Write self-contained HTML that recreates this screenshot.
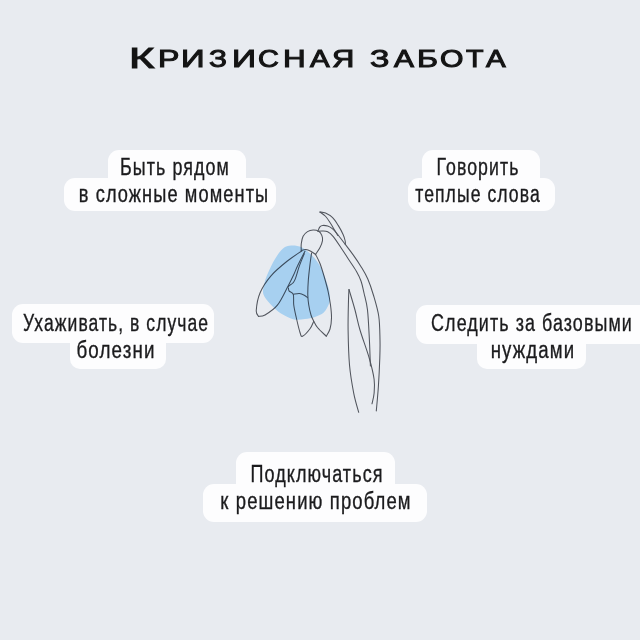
<!DOCTYPE html>
<html><head><meta charset="utf-8"><style>
html,body{margin:0;padding:0}
body{width:640px;height:640px;background:#e8ebf0;position:relative;overflow:hidden;font-family:"Liberation Sans",sans-serif}
.bx{position:absolute;background:#fdfdfe}
.tx{position:absolute;font-size:23px;line-height:1;white-space:nowrap;color:#1b1b1d;-webkit-text-stroke:0.35px #1b1b1d;letter-spacing:1.4px;transform-origin:0 0}
.tl{position:absolute;line-height:1;-webkit-text-stroke:1.0px #141414;color:#141414;white-space:nowrap;transform-origin:0 0}
svg{position:absolute;left:0;top:0}
</style></head><body>
<div class="tl" style="left:129.10px;top:43.93px;font-size:28.63px;transform:scaleX(1.524)">К</div>
<div class="tl" style="left:157.59px;top:48.35px;font-size:23.40px;transform:scaleX(1.368)">Р</div>
<div class="tl" style="left:180.75px;top:48.35px;font-size:23.40px;transform:scaleX(1.401)">И</div>
<div class="tl" style="left:209.08px;top:48.35px;font-size:23.40px;transform:scaleX(1.271)">З</div>
<div class="tl" style="left:232.40px;top:48.35px;font-size:23.40px;transform:scaleX(1.430)">И</div>
<div class="tl" style="left:258.41px;top:48.35px;font-size:23.40px;transform:scaleX(1.235)">С</div>
<div class="tl" style="left:282.73px;top:48.35px;font-size:23.40px;transform:scaleX(1.342)">Н</div>
<div class="tl" style="left:309.51px;top:48.35px;font-size:23.40px;transform:scaleX(1.259)">А</div>
<div class="tl" style="left:331.88px;top:48.35px;font-size:23.40px;transform:scaleX(1.320)">Я</div>
<div class="tl" style="left:369.86px;top:48.35px;font-size:23.40px;transform:scaleX(1.372)">З</div>
<div class="tl" style="left:393.52px;top:48.35px;font-size:23.40px;transform:scaleX(1.277)">А</div>
<div class="tl" style="left:417.00px;top:48.35px;font-size:23.40px;transform:scaleX(1.367)">Б</div>
<div class="tl" style="left:440.20px;top:48.35px;font-size:23.40px;transform:scaleX(1.289)">О</div>
<div class="tl" style="left:465.92px;top:48.35px;font-size:23.40px;transform:scaleX(1.226)">Т</div>
<div class="tl" style="left:486.21px;top:48.35px;font-size:23.40px;transform:scaleX(1.259)">А</div>
<div class="bx" style="left:108px;top:150px;width:138.0px;height:28.0px;border-radius:11px 11px 0 0"></div>
<div class="bx" style="left:64px;top:178px;width:212.0px;height:33.0px;border-radius:11px"></div>
<div class="bx" style="left:422px;top:150px;width:118.0px;height:28.3px;border-radius:11px 11px 0 0"></div>
<div class="bx" style="left:408px;top:178.3px;width:147.0px;height:32.7px;border-radius:11px"></div>
<div class="bx" style="left:11.5px;top:304px;width:202.5px;height:39.0px;border-radius:11px"></div>
<div class="bx" style="left:70px;top:343px;width:96.0px;height:26.0px;border-radius:0 0 10px 10px"></div>
<div class="bx" style="left:416px;top:305px;width:244.0px;height:38.8px;border-radius:11px"></div>
<div class="bx" style="left:477px;top:343.8px;width:109.0px;height:25.7px;border-radius:0 0 10px 10px"></div>
<div class="bx" style="left:236px;top:452px;width:159.0px;height:31.5px;border-radius:11px 11px 0 0"></div>
<div class="bx" style="left:202.5px;top:483.5px;width:224.5px;height:38.8px;border-radius:11px"></div>
<div class="tx" style="left:174.51px;top:156.03px;transform:scaleX(0.7765) translateX(-50%)">Быть рядом</div>
<div class="tx" style="left:174.04px;top:182.83px;transform:scaleX(0.7908) translateX(-50%)">в сложные моменты</div>
<div class="tx" style="left:477.52px;top:156.03px;transform:scaleX(0.7688) translateX(-50%)">Говорить</div>
<div class="tx" style="left:478.00px;top:182.83px;transform:scaleX(0.7646) translateX(-50%)">теплые слова</div>
<div class="tx" style="left:115.51px;top:311.83px;transform:scaleX(0.7607) translateX(-50%)">Ухаживать, в случае</div>
<div class="tx" style="left:115.56px;top:338.83px;transform:scaleX(0.8153) translateX(-50%)">болезни</div>
<div class="tx" style="left:531.83px;top:311.73px;transform:scaleX(0.7776) translateX(-50%)">Следить за базовыми</div>
<div class="tx" style="left:532.55px;top:338.73px;transform:scaleX(0.8092) translateX(-50%)">нуждами</div>
<div class="tx" style="left:316.53px;top:462.83px;transform:scaleX(0.7821) translateX(-50%)">Подключаться</div>
<div class="tx" style="left:315.74px;top:490.33px;transform:scaleX(0.8025) translateX(-50%)">к решению проблем</div>
<svg width="640" height="640" viewBox="0 0 640 640" style="position:absolute;left:0;top:0"><path d="M291.25,245.50 C294.42,245.33 298.46,245.75 302.00,247.50 C305.54,249.25 309.50,252.92 312.50,256.00 C315.50,259.08 317.92,262.42 320.00,266.00 C322.08,269.58 323.50,273.50 325.00,277.50 C326.50,281.50 328.17,286.42 329.00,290.00 C329.83,293.58 330.08,296.50 330.00,299.00 C329.92,301.50 329.54,302.75 328.50,305.00 C327.46,307.25 326.00,310.50 323.75,312.50 C321.50,314.50 318.12,315.92 315.00,317.00 C311.88,318.08 308.50,318.60 305.00,319.00 C301.50,319.40 298.00,320.32 294.00,319.40 C290.00,318.48 284.95,316.07 281.00,313.50 C277.05,310.93 273.25,307.25 270.30,304.00 C267.35,300.75 264.27,297.50 263.30,294.00 C262.33,290.50 263.72,286.50 264.50,283.00 C265.28,279.50 266.25,277.00 268.00,273.00 C269.75,269.00 272.50,263.08 275.00,259.00 C277.50,254.92 280.29,250.75 283.00,248.50 C285.71,246.25 288.08,245.67 291.25,245.50Z" fill="#a7d0f0"/><g fill="none" stroke="#595c63" stroke-width="1.05" stroke-linecap="round" stroke-linejoin="round" style="mix-blend-mode:multiply"><path d="M319.90,212.00 C320.83,212.18 323.38,212.15 325.50,213.10 C327.62,214.05 330.48,215.65 332.60,217.70 C334.72,219.75 336.45,222.60 338.20,225.40 C339.95,228.20 341.93,231.90 343.10,234.50 C344.27,237.10 344.83,239.35 345.20,241.00 C345.57,242.65 345.28,243.83 345.30,244.40"/><path d="M319.90,212.00 C320.83,212.71 323.73,214.37 325.50,216.25 C327.27,218.13 328.97,220.96 330.50,223.30 C332.03,225.64 333.48,228.27 334.70,230.30 C335.92,232.33 337.28,234.63 337.80,235.50"/><path d="M318.20,230.30 C318.48,229.72 319.15,227.62 319.90,226.80 C320.65,225.98 321.40,225.52 322.70,225.40 C324.00,225.28 326.05,225.52 327.70,226.10 C329.35,226.68 331.07,227.67 332.60,228.90 C334.13,230.13 334.78,230.92 336.90,233.50 C339.02,236.08 342.50,240.72 345.30,244.40 C348.10,248.08 351.05,251.85 353.70,255.60 C356.35,259.35 358.85,263.00 361.20,266.90 C363.55,270.80 365.77,274.32 367.80,279.00 C369.83,283.68 371.57,288.79 373.40,295.00 C375.22,301.21 377.65,308.75 378.75,316.25 C379.85,323.75 379.82,333.04 380.00,340.00 C380.18,346.96 380.07,350.28 379.80,358.00 C379.53,365.72 378.98,377.48 378.40,386.30 C377.82,395.12 376.65,406.80 376.30,410.90"/><path d="M317.80,231.40 C318.50,231.33 320.35,230.95 322.00,231.00 C323.65,231.05 325.82,230.77 327.70,231.70 C329.58,232.63 330.83,233.55 333.30,236.60 C335.77,239.65 339.88,246.10 342.50,250.00 C345.12,253.90 346.67,256.42 349.00,260.00 C351.33,263.58 354.50,268.00 356.50,271.50 C358.50,275.00 359.75,277.42 361.00,281.00 C362.25,284.58 362.92,288.17 364.00,293.00 C365.08,297.83 366.60,302.17 367.50,310.00 C368.40,317.83 368.98,332.50 369.40,340.00 C369.82,347.50 369.83,350.67 370.00,355.00 C370.17,359.33 370.33,364.17 370.40,366.00"/><path d="M349.00,289.50 C348.92,291.25 348.65,293.25 348.50,300.00 C348.35,306.75 347.93,319.17 348.10,330.00 C348.27,340.83 348.56,354.45 349.50,365.00 C350.44,375.55 352.22,385.42 353.75,393.30 C355.28,401.18 357.88,409.13 358.70,412.30"/><path d="M349.00,289.50 C350.00,292.92 353.17,303.25 355.00,310.00 C356.83,316.75 357.63,322.00 360.00,330.00 C362.37,338.00 366.85,349.80 369.20,358.00 C371.55,366.20 373.28,373.32 374.10,379.20 C374.92,385.08 374.45,389.20 374.10,393.30 C373.75,397.40 372.35,402.05 372.00,403.80"/><path d="M301.25,250.60 C301.25,249.46 300.94,246.14 301.25,243.75 C301.56,241.36 302.06,238.28 303.10,236.25 C304.14,234.22 305.83,232.64 307.50,231.60 C309.17,230.56 311.23,230.06 313.10,230.00 C314.98,229.94 317.28,230.32 318.75,231.25 C320.22,232.18 321.27,234.04 321.90,235.60 C322.52,237.16 322.82,238.62 322.50,240.60 C322.18,242.58 321.15,245.20 320.00,247.50 C318.85,249.80 316.33,253.25 315.60,254.40"/><path d="M301.25,250.60 C302.02,250.43 304.31,249.49 305.90,249.60 C307.49,249.71 309.18,250.45 310.80,251.25 C312.42,252.05 314.80,253.88 315.60,254.40"/><path d="M302.00,250.80 C299.57,252.50 292.57,256.83 287.40,261.00 C282.23,265.17 275.55,270.52 271.00,275.80 C266.45,281.08 262.56,286.92 260.10,292.70 C257.64,298.48 256.50,306.55 256.25,310.50 C256.00,314.45 258.21,315.42 258.60,316.40"/><path d="M258.60,316.40 C259.67,316.17 261.87,316.87 265.00,315.00 C268.13,313.13 273.57,310.00 277.40,305.20 C281.23,300.40 285.28,291.27 288.00,286.20 C290.72,281.13 292.12,278.17 293.70,274.80 C295.28,271.43 295.62,269.93 297.50,266.00 C299.38,262.07 303.75,253.71 305.00,251.25"/><path d="M304.30,253.70 C303.48,255.73 300.90,261.70 299.40,265.90 C297.90,270.10 296.38,276.05 295.30,278.90 C294.22,281.75 293.85,281.92 292.90,283.00 C291.95,284.08 290.35,284.82 289.60,285.40 C288.85,285.98 288.60,286.32 288.40,286.50"/><path d="M288.40,287.80 C288.53,288.35 288.38,290.02 289.20,291.10 C290.02,292.18 292.54,291.98 293.30,294.30 C294.06,296.62 293.26,301.13 293.75,305.00 C294.24,308.87 295.21,312.92 296.25,317.50 C297.29,322.08 298.96,329.38 300.00,332.50 C301.04,335.62 300.83,336.88 302.50,336.25 C304.17,335.62 308.12,331.25 310.00,328.75 C311.88,326.25 313.12,322.50 313.75,321.25"/><path d="M293.30,294.30 C294.32,294.17 297.57,293.35 299.40,293.50 C301.23,293.65 302.95,294.52 304.30,295.20 C305.65,295.88 306.97,297.20 307.50,297.60"/><path d="M311.60,252.90 C311.33,254.80 310.55,259.70 310.00,264.30 C309.45,268.90 308.67,275.38 308.30,280.50 C307.93,285.62 307.73,290.92 307.80,295.00 C307.88,299.08 308.22,301.67 308.75,305.00 C309.28,308.33 310.17,312.29 311.00,315.00 C311.83,317.71 312.67,319.17 313.75,321.25 C314.83,323.33 315.42,325.00 317.50,327.50 C319.58,330.00 324.79,334.79 326.25,336.25"/><path d="M315.60,254.40 C316.33,255.92 318.60,259.90 320.00,263.50 C321.40,267.10 322.67,271.42 324.00,276.00 C325.33,280.58 326.92,286.17 328.00,291.00 C329.08,295.83 329.92,300.50 330.50,305.00 C331.08,309.50 331.58,314.00 331.50,318.00 C331.42,322.00 330.88,325.96 330.00,329.00 C329.12,332.04 326.88,335.04 326.25,336.25"/></g></svg>
</body></html>
